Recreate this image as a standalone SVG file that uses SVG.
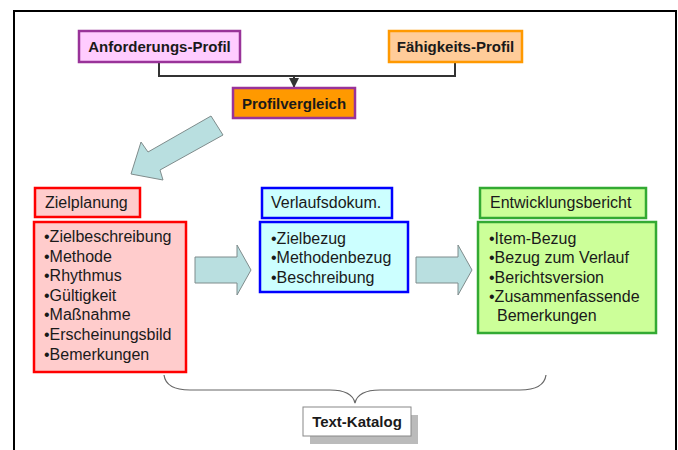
<svg xmlns="http://www.w3.org/2000/svg" width="678" height="450" viewBox="0 0 678 450">
<style>
text{font-family:"Liberation Sans",Arial,sans-serif;fill:#1a1a1a}
.b{font-weight:bold;font-size:15px}
.t{font-size:16px}
.mid{text-anchor:middle}
.blk{fill:#b9dfe0;stroke:#7f8c8c;stroke-width:1}
.con{fill:none;stroke:#333;stroke-width:2}
</style>
<defs>
<marker id="ah" viewBox="0 0 10 10" refX="9" refY="5" markerWidth="5" markerHeight="5" orient="auto">
<path d="M0,0 L10,5 L0,10 z" fill="#333"/>
</marker>
</defs>
<rect x="0" y="0" width="678" height="450" fill="#fff"/>
<rect x="14" y="11" width="662" height="460" fill="none" stroke="#000" stroke-width="2"/>

<g id="connectors">
<path class="con" d="M159,63 V76 H455 V63"/>
<path class="con" d="M294,76 V87" marker-end="url(#ah)"/>
<polygon class="blk" points="211,116 223,135 160,170 163,180 131,174 141,142 148,152"/>
<polygon class="blk" points="195,257 237,257 237,245 251,270 237,295 237,283 195,283"/>
<polygon class="blk" points="416,257 458,257 458,245 472,270 458,295 458,283 416,283"/>
<path d="M164,375 Q166,390 190,390 L330,390 Q352,390 355,403 Q358,390 380,390 L520,390 Q544,390 546,375" fill="none" stroke="#666" stroke-width="1.2"/>
</g>

<g id="anforderungs">
<rect x="79" y="31" width="161" height="31" fill="#ffccff" stroke="#993399" stroke-width="2.5"/>
<text class="b mid" x="159.5" y="52">Anforderungs-Profil</text>
</g>
<g id="faehigkeits">
<rect x="389" y="31" width="133" height="31" fill="#ffcc99" stroke="#ff9900" stroke-width="2.5"/>
<text class="b mid" x="455.5" y="52">Fähigkeits-Profil</text>
</g>
<g id="profilvergleich">
<rect x="233" y="88" width="122" height="30" fill="#ff9900" stroke="#993399" stroke-width="2.5"/>
<text class="b mid" x="294" y="108.5">Profilvergleich</text>
</g>

<g id="zielplanung">
<rect x="35" y="188" width="105" height="29" fill="#ffcccc" stroke="#ff0000" stroke-width="2.5"/>
<text class="t" x="45" y="208">Zielplanung</text>
<rect x="34" y="222" width="152" height="150" fill="#ffcccc" stroke="#ff0000" stroke-width="2.5"/>
<text class="t" x="44" y="242">•Zielbeschreibung</text>
<text class="t" x="44" y="261.6">•Methode</text>
<text class="t" x="44" y="281.2">•Rhythmus</text>
<text class="t" x="44" y="300.8">•Gültigkeit</text>
<text class="t" x="44" y="320.4">•Maßnahme</text>
<text class="t" x="44" y="340">•Erscheinungsbild</text>
<text class="t" x="44" y="359.6">•Bemerkungen</text>
</g>

<g id="verlauf">
<rect x="262" y="188" width="130" height="30" fill="#ccffff" stroke="#0000ff" stroke-width="2.5"/>
<text class="t" x="271" y="208">Verlaufsdokum.</text>
<rect x="260" y="222" width="148" height="70" fill="#ccffff" stroke="#0000ff" stroke-width="2.5"/>
<text class="t" x="271" y="244">•Zielbezug</text>
<text class="t" x="271" y="263.3">•Methodenbezug</text>
<text class="t" x="271" y="282.6">•Beschreibung</text>
</g>

<g id="entwicklung">
<rect x="480" y="188" width="166" height="30" fill="#ccff99" stroke="#33aa33" stroke-width="2.5"/>
<text class="t" x="490" y="208">Entwicklungsbericht</text>
<rect x="478" y="222" width="178" height="111" fill="#ccff99" stroke="#33aa33" stroke-width="2.5"/>
<text class="t" x="489" y="244">•Item-Bezug</text>
<text class="t" x="489" y="263.3">•Bezug zum Verlauf</text>
<text class="t" x="489" y="282.6">•Berichtsversion</text>
<text class="t" x="489" y="301.9">•Zusammenfassende</text>
<text class="t" x="497" y="321.2">Bemerkungen</text>
</g>

<g id="textkatalog">
<rect x="310" y="415" width="108" height="29" fill="#bbbbbb"/>
<rect x="303" y="407" width="108" height="29" fill="#fff" stroke="#888" stroke-width="1"/>
<text class="b mid" x="357" y="427">Text-Katalog</text>
</g>
</svg>
